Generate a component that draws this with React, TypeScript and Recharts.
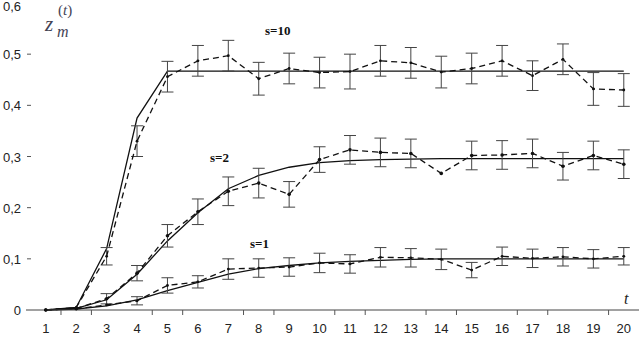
import React from 'react';
import { LineChart, Line, XAxis, YAxis, ErrorBar } from 'recharts';

const T = [1, 2, 3, 4, 5, 6, 7, 8, 9, 10, 11, 12, 13, 14, 15, 16, 17, 18, 19, 20];
const Y_TICKS = [0, 0.1, 0.2, 0.3, 0.4, 0.5, 0.6];

// theory (solid) and simulation (dashed) with error half-widths
const solid10 = [0, 0.005, 0.12, 0.375, 0.467, 0.467, 0.467, 0.467, 0.467, 0.467, 0.467, 0.467, 0.467, 0.467, 0.467, 0.467, 0.467, 0.467, 0.467, 0.467];
const dash10 = [0, 0.005, 0.105, 0.33, 0.456, 0.487, 0.497, 0.452, 0.472, 0.464, 0.466, 0.487, 0.483, 0.465, 0.472, 0.487, 0.458, 0.49, 0.432, 0.43];
const err10 = [null, null, 0.017, 0.03, 0.03, 0.03, 0.03, 0.032, 0.03, 0.03, 0.034, 0.03, 0.03, 0.031, 0.03, 0.03, 0.029, 0.03, 0.032, 0.032];

const solid2 = [0, 0.003, 0.02, 0.07, 0.135, 0.19, 0.237, 0.263, 0.279, 0.288, 0.292, 0.294, 0.295, 0.296, 0.296, 0.296, 0.296, 0.296, 0.296, 0.296];
const dash2 = [0, 0.003, 0.022, 0.072, 0.145, 0.192, 0.232, 0.248, 0.226, 0.294, 0.313, 0.308, 0.306, 0.267, 0.302, 0.303, 0.306, 0.281, 0.302, 0.285];
const err2 = [null, null, 0.01, 0.015, 0.022, 0.025, 0.028, 0.029, 0.025, 0.025, 0.028, 0.028, 0.028, null, 0.028, 0.028, 0.028, 0.027, 0.028, 0.028];

const solid1 = [0, 0.002, 0.008, 0.02, 0.038, 0.054, 0.07, 0.081, 0.087, 0.092, 0.095, 0.097, 0.099, 0.1, 0.1, 0.1, 0.1, 0.1, 0.1, 0.1];
const dash1 = [0, 0.002, 0.01, 0.018, 0.048, 0.055, 0.08, 0.082, 0.084, 0.092, 0.09, 0.103, 0.102, 0.099, 0.078, 0.105, 0.101, 0.104, 0.1, 0.105];
const err1 = [null, null, null, 0.008, 0.015, 0.012, 0.02, 0.018, 0.018, 0.019, 0.018, 0.019, 0.018, 0.02, 0.015, 0.018, 0.018, 0.018, 0.018, 0.017];

const data = T.map((t, i) => ({
  t,
  s10: solid10[i], d10: dash10[i], e10: err10[i],
  s2: solid2[i], d2: dash2[i], e2: err2[i],
  s1: solid1[i], d1: dash1[i], e1: err1[i],
}));

const W = 640;
const H = 337;
const X_DOMAIN: [number, number] = [0.35, 20.5];
const PLOT_LEFT = 26;
const PLOT_RIGHT = 639;
const STEP = (PLOT_RIGHT - PLOT_LEFT) / (X_DOMAIN[1] - X_DOMAIN[0]);
const AXIS_Y = 310;

const sans = "'Liberation Sans', Arial, Helvetica, sans-serif";
const serif = "'Liberation Serif', 'Times New Roman', Times, serif";

const XTick = (props: any) => {
  const { x, payload } = props;
  const v = payload.value;
  const showMark = v % 3 !== 0 && v < 20;
  return (
    <g>
      <text x={x} y={333} textAnchor="middle" style={{ fontSize: 13, fontFamily: sans }} fill="#222">
        {v}
      </text>
      {showMark && (
        <line x1={x + STEP / 2} x2={x + STEP / 2} y1={AXIS_Y} y2={AXIS_Y + 5} stroke="#555" strokeWidth={1} />
      )}
    </g>
  );
};

const YTick = (props: any) => {
  const { y, payload } = props;
  const v = payload.value;
  const label = v === 0 ? '0' : v.toFixed(1).replace('.', ',');
  return (
    <g>
      <text x={21} y={Math.max(y + 5, 11)} textAnchor="end" style={{ fontSize: 13, fontFamily: sans }} fill="#222">
        {label}
      </text>
      {v > 0 && v < 0.6 && <line x1={27} x2={31} y1={y} y2={y} stroke="#555" strokeWidth={1} />}
    </g>
  );
};

export default function App() {
  return (
    <div style={{ position: 'absolute', left: 0, top: 0, width: W, height: H, background: '#fff' }}>
      <LineChart width={W} height={H} data={data} margin={{ top: 3, right: 1, bottom: 0, left: 0 }}>
        <XAxis
          dataKey="t"
          type="number"
          domain={X_DOMAIN}
          ticks={T}
          height={27}
          tickLine={false}
          axisLine={{ stroke: '#444', strokeWidth: 1 }}
          tick={<XTick />}
          interval={0}
        />
        <YAxis
          type="number"
          domain={[0, 0.6]}
          ticks={Y_TICKS}
          width={26}
          axisLine={false}
          tickLine={false}
          tick={<YTick />}
          interval={0}
        />
        <Line dataKey="s10" stroke="#111" strokeWidth={1.3} dot={false} isAnimationActive={false} />
        <Line dataKey="s2" stroke="#111" strokeWidth={1.3} dot={false} isAnimationActive={false} />
        <Line dataKey="s1" stroke="#111" strokeWidth={1.3} dot={false} isAnimationActive={false} />
        <Line dataKey="d10" stroke="#111" strokeWidth={1.3} strokeDasharray="6 4" dot={{ r: 1.4, fill: '#111', stroke: 'none' }} isAnimationActive={false}>
          <ErrorBar dataKey="e10" width={6} stroke="#444" strokeWidth={1} direction="y" isAnimationActive={false} />
        </Line>
        <Line dataKey="d2" stroke="#111" strokeWidth={1.3} strokeDasharray="6 4" dot={{ r: 1.8, fill: '#111', stroke: 'none' }} isAnimationActive={false}>
          <ErrorBar dataKey="e2" width={6} stroke="#444" strokeWidth={1} direction="y" isAnimationActive={false} />
        </Line>
        <Line dataKey="d1" stroke="#111" strokeWidth={1.3} strokeDasharray="6 4" dot={{ r: 1.4, fill: '#111', stroke: 'none' }} isAnimationActive={false}>
          <ErrorBar dataKey="e1" width={6} stroke="#444" strokeWidth={1} direction="y" isAnimationActive={false} />
        </Line>
      </LineChart>

      <div style={{ position: 'absolute', left: 45, top: 14, fontFamily: serif, fontStyle: 'italic', color: '#445', lineHeight: 1 }}>
        <span style={{ fontSize: 21 }}>z</span>
        <span style={{ position: 'absolute', left: 12, top: 10, fontSize: 16 }}>m</span>
        <span style={{ position: 'absolute', left: 13, top: -11, fontSize: 15, fontStyle: 'normal', whiteSpace: 'nowrap' }}>
          (<i>t</i>)
        </span>
      </div>
      <div style={{ position: 'absolute', left: 624, top: 291, fontFamily: serif, fontStyle: 'italic', fontSize: 16, color: '#222', lineHeight: 1 }}>
        t
      </div>
      <div style={{ position: 'absolute', left: 265, top: 24, fontFamily: serif, fontWeight: 'bold', fontSize: 13, color: '#111', lineHeight: 1 }}>
        s=10
      </div>
      <div style={{ position: 'absolute', left: 210, top: 151, fontFamily: serif, fontWeight: 'bold', fontSize: 13, color: '#111', lineHeight: 1 }}>
        s=2
      </div>
      <div style={{ position: 'absolute', left: 250, top: 237, fontFamily: serif, fontWeight: 'bold', fontSize: 13, color: '#111', lineHeight: 1 }}>
        s=1
      </div>
    </div>
  );
}
